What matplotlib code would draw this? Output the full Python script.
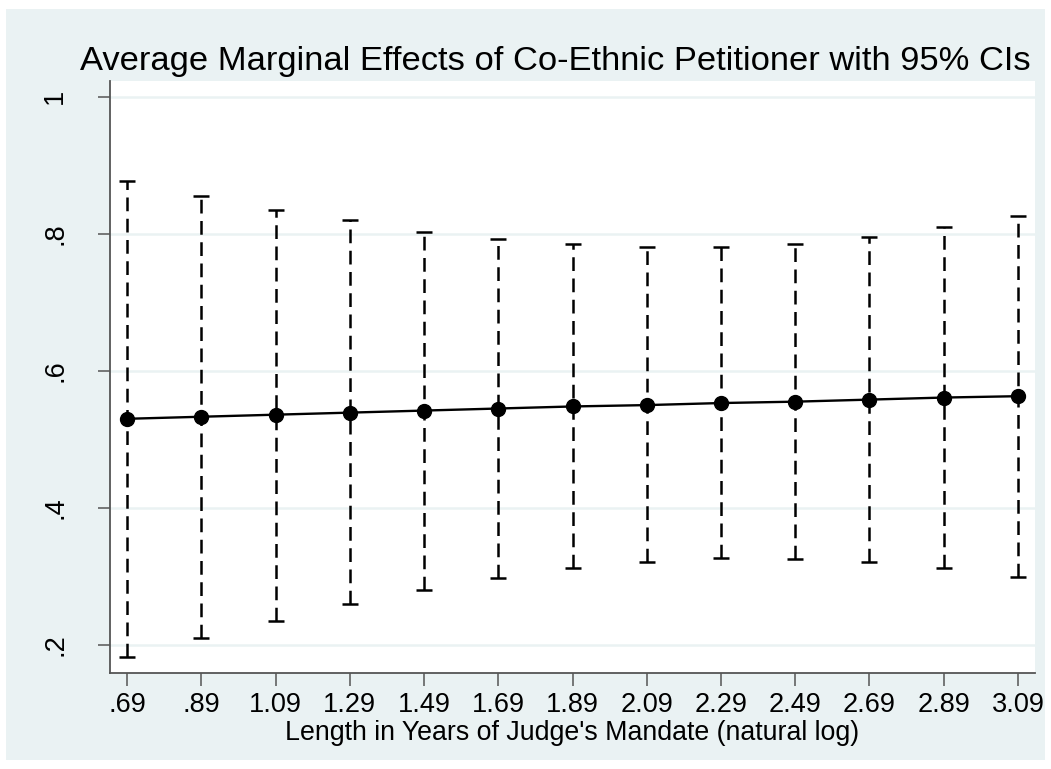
import numpy as np
import matplotlib.pyplot as plt
from matplotlib.patches import Rectangle

# Data
mandate_log = [0.69, 0.89, 1.09, 1.29, 1.49, 1.69, 1.89, 2.09, 2.29, 2.49, 2.69, 2.89, 3.09]
tick_labels = ['.69', '.89', '1.09', '1.29', '1.49', '1.69', '1.89', '2.09',
               '2.29', '2.49', '2.69', '2.89', '3.09']
ame = [0.530, 0.533, 0.536, 0.539, 0.542, 0.545, 0.548, 0.550, 0.553, 0.555, 0.558, 0.561, 0.563]
ci_low = [0.182, 0.210, 0.235, 0.260, 0.280, 0.298, 0.312, 0.321, 0.327, 0.326, 0.321, 0.312, 0.299]
ci_high = [0.877, 0.855, 0.835, 0.820, 0.803, 0.793, 0.785, 0.780, 0.781, 0.785, 0.796, 0.810, 0.826]
y_ticks = [0.2, 0.4, 0.6, 0.8, 1.0]
y_tick_labels = ['.2', '.4', '.6', '.8', '1']

bg = '#eaf2f3'
font = 'Liberation Sans'
W, H = 1051, 769

fig = plt.figure(figsize=(W / 100, H / 100), dpi=100)
fig.patch.set_facecolor('white')
# Stata-style light outer region with a thin white frame
fig.add_artist(Rectangle((6 / W, 9 / H), 1039 / W, 751 / H,
                         transform=fig.transFigure, facecolor=bg,
                         edgecolor='none', zorder=0))

ax = fig.add_axes([110 / W, 1 - 673 / H, 925 / W, 592 / H])
ax.set_facecolor('white')

x = np.array(mandate_log)
y = np.array(ame)
lo = np.array(ci_low)
hi = np.array(ci_high)

eb = ax.errorbar(x, y, yerr=[y - lo, hi - y], fmt='none', ecolor='black',
                 elinewidth=1.8, capsize=6, capthick=1.8, zorder=3)
eb[2][0].set_linestyle((0, (5.5, 3)))

ax.plot(x, y, color='black', linewidth=1.7, marker='o', markersize=10,
        zorder=4)

ax.set_xlim(0.644, 3.136)
ax.set_ylim(0.159, 1.023)

ax.set_xticks(mandate_log)
ax.set_xticklabels(tick_labels, fontfamily=font, fontsize=19.5)
ax.set_yticks(y_ticks)
ax.set_yticklabels(y_tick_labels, fontfamily=font, fontsize=19.5,
                   rotation=90, va='center')

ax.yaxis.grid(True, color=bg, linewidth=1.8)
ax.set_axisbelow(True)

for side in ['top', 'right']:
    ax.spines[side].set_visible(False)
for side in ['left', 'bottom']:
    ax.spines[side].set_color('#555555')
    ax.spines[side].set_linewidth(1.3)
ax.tick_params(axis='both', direction='out', length=9, width=1.1,
               color='#555555')
ax.tick_params(axis='x', pad=5)
ax.tick_params(axis='y', pad=21)

fig.text(572 / W, 1 - 740 / H, "Length in Years of Judge's Mandate (natural log)",
         fontfamily=font, fontsize=19.3, ha='center', va='baseline')
fig.text(555 / W, 1 - 70 / H,
         'Average Marginal Effects of Co-Ethnic Petitioner with 95% CIs',
         fontfamily=font, fontsize=24.8, ha='center', va='baseline')

fig.savefig('out.png', dpi=100, facecolor=fig.get_facecolor())
